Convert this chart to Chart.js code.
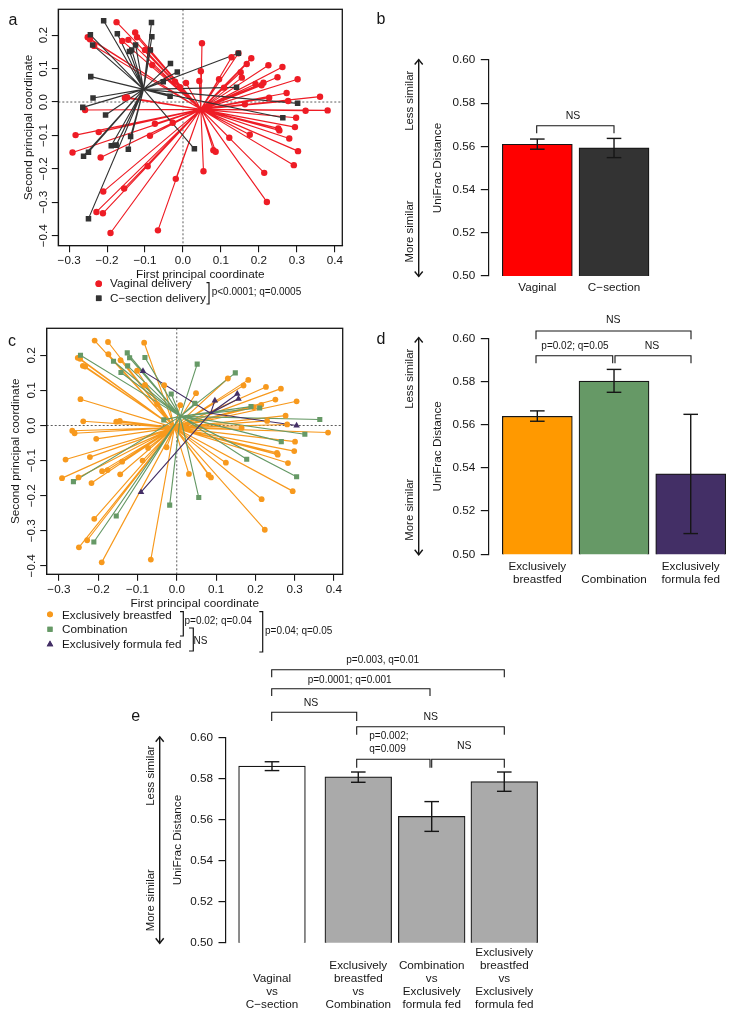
<!DOCTYPE html>
<html>
<head>
<meta charset="utf-8">
<title>UniFrac distance</title>
<style>
  html, body { margin: 0; padding: 0; background: #fff; }
  #page { position: relative; width: 736px; height: 1017px; overflow: hidden; }
  canvas { position: absolute; }
</style>
<script src="https://cdn.jsdelivr.net/npm/chart.js@4"></script>
</head>
<body>
<div id="page"></div>
<script>
// panel a: delivery mode, [first, second] principal coordinate
const vaginalPoints = [
  [-.175,.239],[-.126,.208],[-.121,.194],[-.160,.183],[-.144,.186],[-.251,.194],[-.245,.188],[-.234,.168],
  [-.100,.156],[-.087,.156],[-.081,.111],[.050,.176],[.047,.092],[.043,.063],[.008,.057],[-.021,.061],
  [-.008,.044],[.095,.068],[.108,.043],[.128,.134],[.146,.146],[.168,.114],[.180,.131],[.152,.089],
  [.155,.073],[.225,.110],[.262,.105],[.249,.074],[.302,.068],[.212,.058],[.207,.050],[.191,.054],
  [.273,.027],[.227,.013],[.277,.003],[.163,-.007],[.361,.016],[.381,-.025],[.323,-.026],[.298,-.047],
  [.295,-.075],[.251,-.079],[.254,-.085],[.280,-.109],[.303,-.147],[.292,-.189],[.176,-.098],[.122,-.107],
  [.080,-.144],[.086,-.149],[.054,-.207],[.214,-.212],[.221,-.299],[-.019,-.230],[-.066,-.384],[-.191,-.392],
  [-.211,-.333],[-.228,-.329],[-.210,-.268],[-.155,-.259],[-.093,-.192],[-.217,-.166],[-.291,-.151],[-.283,-.099],
  [-.222,-.090],[-.087,-.101],[-.074,-.065],[-.027,-.062],[-.258,-.024],[-.153,.012],[-.147,.014]
];
const sectionPoints = [
  [-.209,.243],[-.083,.238],[-.173,.204],[-.082,.195],[-.244,.201],[-.238,.171],[-.125,.171],[-.141,.151],
  [-.135,.156],[-.086,.156],[-.033,.115],[-.015,.090],[-.052,.061],[.146,.146],[-.243,.076],[.141,.044],
  [-.034,.017],[-.237,.012],[-.264,-.016],[-.204,-.039],[.302,-.004],[.263,-.047],[-.138,-.103],[-.189,-.131],
  [-.176,-.129],[-.144,-.141],[.030,-.140],[-.249,-.150],[-.262,-.162],[-.249,-.349]
];
const vaginalCentre = [.047, -.022];
const sectionCentre = [-.104, .038];

// panel c: feeding mode
const breastfedPoints = [
  [-.209,.242],[-.175,.238],[-.083,.236],[-.174,.203],[-.143,.186],[-.252,.193],[-.246,.190],[-.239,.170],
  [-.233,.168],[-.101,.156],[-.032,.115],[-.081,.116],[.130,.134],[.170,.114],[.182,.130],[.049,.092],
  [.009,.058],[-.050,.061],[-.245,.075],[-.238,.012],[-.154,.011],[-.145,.013],[.227,.110],[.265,.105],
  [.251,.074],[.305,.069],[.215,.059],[.196,.052],[.277,.028],[.230,.013],[.281,.003],[.165,-.007],
  [.385,-.020],[.301,-.046],[.299,-.073],[.255,-.078],[.257,-.083],[.283,-.107],[.295,-.187],[.125,-.106],
  [.081,-.141],[.087,-.148],[.216,-.210],[.224,-.297],[.031,-.138],[-.066,-.382],[-.191,-.390],[-.249,-.347],
  [-.228,-.327],[-.210,-.266],[-.217,-.164],[-.292,-.150],[-.283,-.097],[-.250,-.148],[-.221,-.090],[-.205,-.038],
  [-.266,-.015],[-.260,-.022],[-.087,-.100],[-.139,-.103],[-.190,-.130],[-.176,-.127],[-.144,-.139],[-.073,-.064],
  [-.026,-.062]
];
const combinationPoints = [
  [-.245,.200],[-.126,.207],[-.120,.193],[-.081,.194],[-.161,.183],[-.125,.170],[-.142,.151],[.052,.175],
  [.149,.150],[-.014,.090],[.046,.063],[.189,.054],[.211,.050],[.364,.017],[.326,-.025],[.266,-.046],
  [.178,-.096],[.305,-.146],[.056,-.205],[-.018,-.227],[-.154,-.258],[-.211,-.332],[-.263,-.160],[-.033,.016]
];
const formulaPoints = [[-.086,.155],[.097,.071],[.154,.090],[.157,.076],[.305,.000],[-.091,-.190]];
const breastfedCentre = [-.006, -.006];
const combinationCentre = [.009, .026];
const formulaCentre = [.086, .035];

// panel b
const deliveryLabels = [["Vaginal"], ["C\u2212section"]];
const deliveryValues = [.5610, .5593];
const deliveryLow = [.5587, .5548];
const deliveryHigh = [.5634, .5637];

// panel d
const feedingLabels = [["Exclusively", "breastfed"], ["", "Combination"], ["Exclusively", "formula fed"]];
const feedingValues = [.5639, .5802, .5372];
const feedingLow = [.5616, .5750, .5096];
const feedingHigh = [.5664, .5856, .5648];

// panel e
const comparisonLabels = [
  ["", "", "Vaginal", "vs", "C\u2212section"],
  ["", "Exclusively", "breastfed", "vs", "Combination"],
  ["", "Combination", "vs", "Exclusively", "formula fed"],
  ["Exclusively", "breastfed", "vs", "Exclusively", "formula fed"]
];
const comparisonValues = [.5860, .5807, .5615, .5784];
const comparisonLow = [.5838, .5781, .5542, .5737];
const comparisonHigh = [.5881, .5831, .5687, .5831];

const INK = "#161616";
Chart.defaults.font.family = "'Liberation Sans', Arial, sans-serif";
Chart.defaults.font.size = 11.7;
Chart.defaults.color = INK;

const page = document.getElementById("page");

// fixed axis sizes so the plot area lands where the layout says
function fixWidth(w) {
  return (s) => { s.width = w; s.paddingTop = s.paddingBottom = s.paddingLeft = s.paddingRight = 0; };
}
function fixHeight(h) {
  return (s) => { s.height = h; s.paddingTop = s.paddingBottom = s.paddingLeft = s.paddingRight = 0; };
}

function text(ctx, str, x, y, opts = {}) {
  ctx.save();
  ctx.translate(x, y);
  if (opts.rotate) ctx.rotate(-Math.PI / 2);
  ctx.font = `${opts.size || 11.7}px 'Liberation Sans', Arial, sans-serif`;
  ctx.fillStyle = INK;
  ctx.textAlign = opts.align || "center";
  ctx.textBaseline = "middle";
  ctx.fillText(str, 0, 0);
  ctx.restore();
}

function path(ctx, pts, width = 1.1) {
  ctx.save();
  ctx.strokeStyle = INK;
  ctx.lineWidth = width;
  ctx.beginPath();
  pts.forEach((p, i) => (i ? ctx.lineTo(p[0], p[1]) : ctx.moveTo(p[0], p[1])));
  ctx.stroke();
  ctx.restore();
}

function bracket(ctx, x1, x2, y, drop) {
  path(ctx, [[x1, drop], [x1, y], [x2, y], [x2, drop]]);
}

function sideBracket(ctx, x, y1, y2, tip) {
  path(ctx, [[tip, y1], [x, y1], [x, y2], [tip, y2]], 1.2);
}

function similarArrow(ctx, x, top, bottom, lessY, moreY) {
  path(ctx, [[x, top], [x, bottom]], 1.4);
  path(ctx, [[x - 4, top + 5], [x, top], [x + 4, top + 5]], 1.4);
  path(ctx, [[x - 4, bottom - 5], [x, bottom], [x + 4, bottom - 5]], 1.4);
  text(ctx, "Less similar", x - 9, lessY, { rotate: true, size: 11.4 });
  text(ctx, "More similar", x - 9, moreY, { rotate: true, size: 11.4 });
}

function marker(ctx, style, radius, color, x, y) {
  ctx.fillStyle = color;
  ctx.strokeStyle = color;
  Chart.helpers.drawPoint(ctx, { pointStyle: style, radius, borderWidth: 0 }, x, y);
  ctx.fill();
}

function makeCanvas(box) {
  const c = document.createElement("canvas");
  c.width = box.w;
  c.height = box.h;
  c.style.left = box.x + "px";
  c.style.top = box.y + "px";
  c.style.width = box.w + "px";
  c.style.height = box.h + "px";
  page.appendChild(c);
  return c;
}

function layoutFor(box, plot, axisW, axisH) {
  return {
    padding: {
      left: plot.left - axisW - box.x,
      right: box.x + box.w - plot.right,
      top: plot.top - box.y,
      bottom: box.y + box.h - plot.bottom - axisH
    }
  };
}

function spokes(points, centre) {
  const out = [];
  points.forEach((p) => {
    out.push({ x: centre[0], y: centre[1] }, { x: p[0], y: p[1] }, { x: null, y: null });
  });
  return out;
}

function signed(v, digits) {
  const n = Math.abs(v) < 1e-9 ? 0 : v;
  return (n < 0 ? "\u2212" : "") + Math.abs(n).toFixed(digits);
}

function scatterPanel(box, plot, groups, axes, labelX, extras) {
  const datasets = [];
  groups.forEach((g, i) => {
    datasets.push({
      data: spokes(g.points, g.centre), showLine: true, spanGaps: false, pointRadius: 0,
      borderColor: g.color, borderWidth: 1.15, order: 20 - i
    });
    datasets.push({
      data: g.points.map((p) => ({ x: p[0], y: p[1] })), showLine: false,
      pointStyle: g.style, pointRadius: g.radius, pointBackgroundColor: g.color,
      pointBorderWidth: 0, order: 10 - i
    });
  });
  const tickOpts = { color: INK, lineWidth: 1.1, drawOnChartArea: false, tickLength: 6.5 };
  new Chart(makeCanvas(box), {
    type: "scatter",
    data: { datasets },
    options: {
      responsive: false, animation: false, events: [], devicePixelRatio: 1,
      layout: layoutFor(box, plot, axes.axisW, axes.axisH),
      plugins: { legend: { display: false }, tooltip: { enabled: false } },
      scales: {
        x: {
          min: axes.xMin, max: axes.xMax,
          grid: tickOpts, border: { color: INK, width: 1.1 },
          afterFit: fixHeight(axes.axisH),
          ticks: { stepSize: .1, includeBounds: false, padding: 1.5, maxRotation: 0, autoSkip: false, callback: (v) => signed(v, 1) },
          title: { display: true, text: "First principal coordinate", padding: 0, font: { size: 11.8 } }
        },
        y: {
          min: axes.yMin, max: axes.yMax,
          grid: tickOpts, border: { color: INK, width: 1.1 },
          afterFit: fixWidth(axes.axisW),
          ticks: { stepSize: .1, includeBounds: false, display: false },
          title: { display: true, text: "Second principal coordinate", padding: 0, font: { size: 11.8 } }
        }
      }
    },
    plugins: [{
      id: "scatterExtras",
      beforeDatasetsDraw(chart) {
        const { ctx, chartArea: a, scales } = chart;
        ctx.save();
        ctx.setLineDash([2, 2]);
        ctx.strokeStyle = "#333";
        ctx.lineWidth = .8;
        const x0 = scales.x.getPixelForValue(0), y0 = scales.y.getPixelForValue(0);
        ctx.beginPath();
        ctx.moveTo(a.left, y0); ctx.lineTo(a.right, y0);
        ctx.moveTo(x0, a.top); ctx.lineTo(x0, a.bottom);
        ctx.stroke();
        ctx.restore();
      },
      afterDraw(chart) {
        const { ctx, chartArea: a, scales } = chart;
        ctx.save();
        ctx.strokeStyle = INK;
        ctx.lineWidth = 1.3;
        ctx.strokeRect(a.left, a.top, a.width, a.height);
        ctx.restore();
        // chart.js cannot rotate y tick labels
        scales.y.ticks.forEach((t) => {
          text(ctx, signed(t.value, 1), labelX - box.x, scales.y.getPixelForValue(t.value), { rotate: true, size: 11.7 });
        });
        ctx.save();
        ctx.translate(-box.x, -box.y);
        extras(ctx);
        ctx.restore();
      }
    }]
  });
}

function barPanel(box, plot, cfg, extras) {
  new Chart(makeCanvas(box), {
    type: "bar",
    data: {
      datasets: [{
        data: cfg.values.map((v, i) => ({ x: cfg.positions[i], y: v })),
        backgroundColor: cfg.colors,
        borderColor: INK,
        borderWidth: 1.2,
        borderSkipped: false,
        barThickness: cfg.barWidth
      }]
    },
    options: {
      responsive: false, animation: false, events: [], devicePixelRatio: 1,
      layout: layoutFor(box, plot, cfg.axisW, cfg.axisH),
      plugins: { legend: { display: false }, tooltip: { enabled: false } },
      scales: {
        x: {
          type: "linear", min: cfg.xMin, max: cfg.xMax, offset: false,
          grid: { display: false }, border: { display: false },
          afterBuildTicks: (s) => { s.ticks = cfg.positions.map((value) => ({ value })); },
          afterFit: fixHeight(cfg.axisH),
          ticks: {
            padding: cfg.labelPad, maxRotation: 0, minRotation: 0, autoSkip: false,
            font: { lineHeight: cfg.labelLine },
            callback: (v) => cfg.labels[cfg.positions.indexOf(v)]
          }
        },
        y: {
          min: .5, max: .6,
          grid: { color: INK, lineWidth: 1.2, drawOnChartArea: false, tickLength: 7.5 },
          border: { color: INK, width: 1.2 },
          afterFit: fixWidth(cfg.axisW),
          ticks: { stepSize: .02, padding: 5.5, callback: (v) => v.toFixed(2) },
          title: { display: true, text: "UniFrac Distance", padding: 0, font: { size: 11.8 } }
        }
      }
    },
    plugins: [{
      id: "barExtras",
      afterDatasetsDraw(chart) {
        const { ctx, scales } = chart;
        cfg.positions.forEach((pos, i) => {
          const x = scales.x.getPixelForValue(pos);
          const lo = scales.y.getPixelForValue(cfg.low[i]);
          const hi = scales.y.getPixelForValue(cfg.high[i]);
          path(ctx, [[x, lo], [x, hi]], 1.4);
          path(ctx, [[x - 7.3, lo], [x + 7.3, lo]], 1.4);
          path(ctx, [[x - 7.3, hi], [x + 7.3, hi]], 1.4);
        });
      },
      afterDraw(chart) {
        const { ctx } = chart;
        ctx.save();
        ctx.translate(-box.x, -box.y);
        extras(ctx);
        ctx.restore();
      }
    }]
  });
}

// a
scatterPanel(
  { x: 0, y: 0, w: 360, h: 310 },
  { left: 58.3, right: 342.3, top: 9.3, bottom: 245.7 },
  [
    { points: vaginalPoints, centre: vaginalCentre, color: "#ee1c25", style: "circle", radius: 3.2 },
    { points: sectionPoints, centre: sectionCentre, color: "#333333", style: "rect", radius: 3.9 }
  ],
  { xMin: -.3285, xMax: .4197, yMin: -.430, yMax: .2775, axisW: 36.3, axisH: 36 },
  43.7,
  (ctx) => {
    text(ctx, "a", 13, 21, { size: 16 });
    marker(ctx, "circle", 3.2, "#ee1c25", 98.7, 283.7);
    marker(ctx, "rect", 3.9, "#333333", 98.7, 298.3);
    text(ctx, "Vaginal delivery", 110, 284, { align: "left" });
    text(ctx, "C\u2212section delivery", 110, 298.5, { align: "left" });
    sideBracket(ctx, 209, 282.7, 304, 206.5);
    text(ctx, "p<0.0001; q=0.0005", 211.7, 292.7, { align: "left", size: 10 });
  }
);

// b
barPanel(
  { x: 360, y: 0, w: 376, h: 310 },
  { left: 488.3, right: 730, top: 60, bottom: 276 },
  {
    values: deliveryValues, low: deliveryLow, high: deliveryHigh, labels: deliveryLabels,
    positions: [1, 2], colors: ["#ff0000", "#333333"], barWidth: 70,
    xMin: .361, xMax: 3.512, axisW: 58, axisH: 30, labelPad: -2.8, labelLine: 1.14
  },
  (ctx) => {
    text(ctx, "b", 381, 20, { size: 16 });
    similarArrow(ctx, 418.7, 59.5, 276.5, 100.8, 231.5);
    bracket(ctx, 536.7, 614, 125.7, 133.3);
    text(ctx, "NS", 573, 116, { size: 10.5 });
  }
);

// c
scatterPanel(
  { x: 0, y: 310, w: 360, h: 343 },
  { left: 46.7, right: 342.7, top: 328.3, bottom: 574.3 },
  [
    { points: breastfedPoints, centre: breastfedCentre, color: "#f7991d", style: "circle", radius: 2.9 },
    { points: combinationPoints, centre: combinationCentre, color: "#669966", style: "rect", radius: 3.6 },
    { points: formulaPoints, centre: formulaCentre, color: "#432f66", style: "triangle", radius: 3.8 }
  ],
  { xMin: -.3310, xMax: .4223, yMin: -.4240, yMax: .2770, axisW: 37.7, axisH: 36.6 },
  32,
  (ctx) => {
    text(ctx, "c", 12, 342, { size: 16 });
    marker(ctx, "circle", 2.9, "#f7991d", 50, 614.3);
    marker(ctx, "rect", 3.6, "#669966", 50, 629.3);
    marker(ctx, "triangle", 3.8, "#432f66", 50, 644.3);
    text(ctx, "Exclusively breastfed", 62, 615.3, { align: "left" });
    text(ctx, "Combination", 62, 630, { align: "left" });
    text(ctx, "Exclusively formula fed", 62, 644.5, { align: "left" });
    sideBracket(ctx, 183.3, 611.7, 636, 180);
    sideBracket(ctx, 193.3, 628, 651, 189);
    sideBracket(ctx, 262.7, 611.7, 652, 259.3);
    text(ctx, "p=0.02; q=0.04", 184.5, 621.7, { align: "left", size: 10 });
    text(ctx, "NS", 193.5, 641.7, { align: "left", size: 10 });
    text(ctx, "p=0.04; q=0.05", 265, 631, { align: "left", size: 10 });
  }
);

// d
barPanel(
  { x: 360, y: 310, w: 376, h: 343 },
  { left: 488.3, right: 730, top: 338.3, bottom: 554.3 },
  {
    values: feedingValues, low: feedingLow, high: feedingHigh, labels: feedingLabels,
    positions: [1, 2, 3], colors: ["#ff9900", "#669966", "#432f66"], barWidth: 70,
    xMin: .361, xMax: 3.512, axisW: 58, axisH: 40, labelPad: -2.5, labelLine: 1.12
  },
  (ctx) => {
    text(ctx, "d", 381, 340, { size: 16 });
    similarArrow(ctx, 418.7, 337.5, 554.8, 378.8, 509.7);
    bracket(ctx, 536, 691, 331, 339.3);
    text(ctx, "NS", 613.3, 320.5, { size: 10.5 });
    bracket(ctx, 536, 612.7, 355.7, 363.3);
    bracket(ctx, 615, 691, 355.7, 363.3);
    text(ctx, "p=0.02; q=0.05", 575, 346, { size: 10 });
    text(ctx, "NS", 652, 346, { size: 10.5 });
  }
);

// e
barPanel(
  { x: 0, y: 653, w: 736, h: 364 },
  { left: 226, right: 545, top: 737.3, bottom: 942.7 },
  {
    values: comparisonValues, low: comparisonLow, high: comparisonHigh, labels: comparisonLabels,
    positions: [1, 2.182, 3.188, 4.182], colors: ["#ffffff", "#aaaaaa", "#aaaaaa", "#aaaaaa"], barWidth: 66.7,
    xMin: .37, xMax: 4.74, axisW: 55.7, axisH: 70, labelPad: -4, labelLine: 1.11
  },
  (ctx) => {
    text(ctx, "e", 135.7, 717, { size: 16 });
    similarArrow(ctx, 159.7, 736.8, 943.3, 775.7, 900.2);
    bracket(ctx, 271.7, 504.3, 669.7, 677.3);
    text(ctx, "p=0.003, q=0.01", 382.7, 660, { size: 10 });
    bracket(ctx, 271.7, 430, 688.7, 696);
    text(ctx, "p=0.0001; q=0.001", 349.7, 680, { size: 10 });
    bracket(ctx, 271.7, 356.7, 712.3, 721);
    text(ctx, "NS", 311, 703.3, { size: 10.5 });
    bracket(ctx, 356.7, 504.3, 726.7, 734.7);
    text(ctx, "NS", 430.7, 717.3, { size: 10.5 });
    bracket(ctx, 356.7, 430, 759.3, 767.7);
    bracket(ctx, 431.7, 504.3, 759.3, 767.7);
    text(ctx, "p=0.002;", 369.3, 736.7, { align: "left", size: 10 });
    text(ctx, "q=0.009", 369.3, 749.3, { align: "left", size: 10 });
    text(ctx, "NS", 464.3, 746.3, { size: 10.5 });
  }
);
</script>
</body>
</html>
